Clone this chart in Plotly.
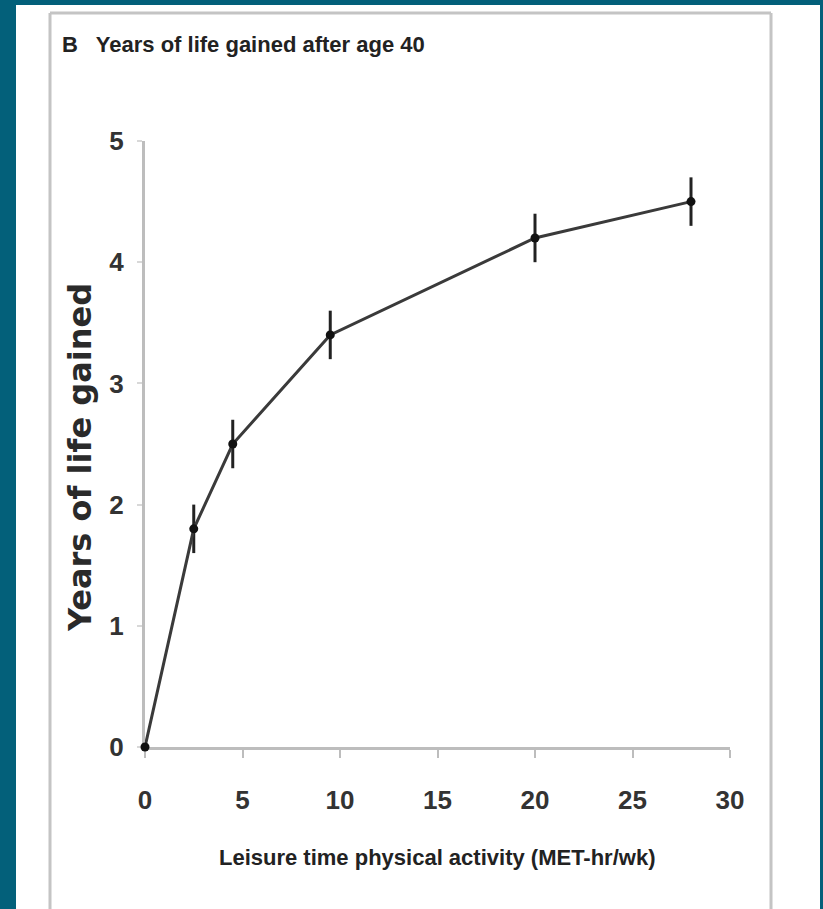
import plotly.graph_objects as go

met_hr_wk = [0, 2.5, 4.5, 9.5, 20, 28]
years_gained = [0, 1.8, 2.5, 3.4, 4.2, 4.5]
err = [0, 0.2, 0.2, 0.2, 0.2, 0.2]
x_ticks = [0, 5, 10, 15, 20, 25, 30]
y_ticks = [0, 1, 2, 3, 4, 5]

W, H = 823, 909
L, R, T, B = 145, 730, 141, 747  # plot area in pixels


def px(x):
    return (x - L) / (R - L)


def py(y):
    return (B - y) / (B - T)


NARROW = "Liberation Sans Narrow, Arial Narrow, Liberation Sans, Arial"
TXT = "#333333"
AX = "#bdbdbd"

fig = go.Figure()
fig.add_trace(go.Scatter(
    x=met_hr_wk, y=years_gained,
    mode="lines+markers",
    line=dict(color="#3a3a3a", width=3),
    marker=dict(color="#111111", size=9),
    error_y=dict(type="data", array=err, visible=True, color="#222222",
                 thickness=3, width=0),
    cliponaxis=False,
    showlegend=False,
))

shapes = [
    dict(type="rect", xref="paper", yref="paper", x0=px(16), x1=px(820),
         y0=py(5), y1=py(912), fillcolor="white", line=dict(width=0), layer="below"),
    dict(type="line", xref="paper", yref="paper", x0=px(50), x1=px(50),
         y0=py(13), y1=py(912), line=dict(color="#c4c4c4", width=3), layer="below"),
    dict(type="line", xref="paper", yref="paper", x0=px(771), x1=px(771),
         y0=py(13), y1=py(912), line=dict(color="#c4c4c4", width=3), layer="below"),
    dict(type="line", xref="paper", yref="paper", x0=px(50), x1=px(771),
         y0=py(13), y1=py(13), line=dict(color="#c4c4c4", width=3), layer="below"),
]

annotations = [
    dict(text="<b>B   Years of life gained after age 40</b>", xref="paper", yref="paper",
         x=px(60), y=py(44), xanchor="left", yanchor="middle", showarrow=False,
         font=dict(family=NARROW, size=22, color="#222222")),
    dict(text="<b>Leisure time physical activity (MET-hr/wk)</b>", xref="paper", yref="paper",
         x=px(437), y=py(857), xanchor="center", yanchor="middle", showarrow=False,
         font=dict(family=NARROW, size=22, color="#222222")),
    dict(text="<b>Years of life gained</b>", xref="paper", yref="paper",
         x=px(80), y=py(458), xanchor="center", yanchor="middle", showarrow=False,
         textangle=-90,
         font=dict(family="DejaVu Sans, Arial", size=32, color="#2a2a2a")),
]

fig.update_layout(
    width=W, height=H,
    margin=dict(l=L, r=W - R, t=T, b=H - B, pad=0),
    paper_bgcolor="#03607a",
    plot_bgcolor="white",
    shapes=shapes,
    annotations=annotations,
    xaxis=dict(range=[0, 30], tickvals=x_ticks, showgrid=False, zeroline=False,
               showline=True, linecolor=AX, linewidth=3, layer="below traces",
               ticks="outside", ticklen=8, tickwidth=2, tickcolor=AX,
               ticklabelstandoff=20,
               tickfont=dict(family=NARROW, size=26, color=TXT, weight="bold")),
    yaxis=dict(range=[0, 5], tickvals=y_ticks, showgrid=False, zeroline=False,
               showline=True, linecolor=AX, linewidth=3, layer="below traces",
               ticks="outside", ticklen=5, tickwidth=2, tickcolor="#d8d8d8",
               ticklabelstandoff=8,
               tickfont=dict(family=NARROW, size=26, color=TXT, weight="bold")),
)

fig.write_html(
    "out.html",
    config={"displayModeBar": False},
    post_script="document.body.style.margin='0';document.body.style.overflow='hidden';",
)
